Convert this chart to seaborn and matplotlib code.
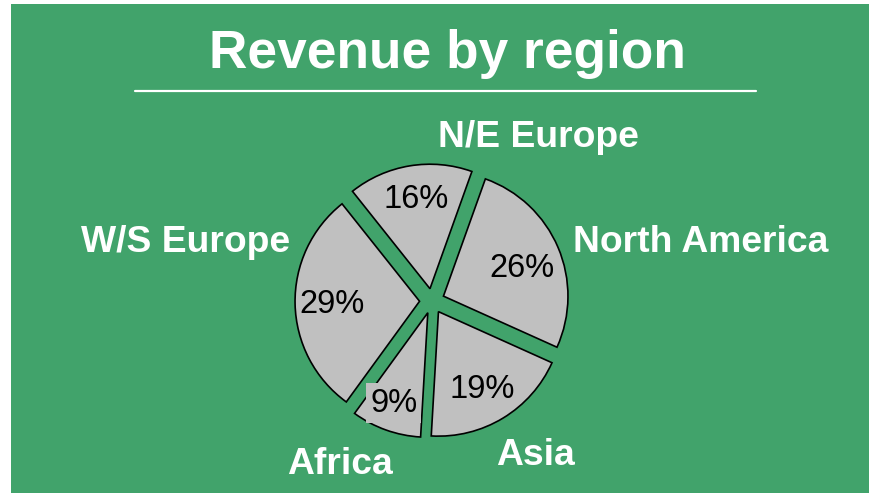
# plot.py
# Revenue by region — exploded pie on a green card

import matplotlib
matplotlib.use('Agg')
import matplotlib.pyplot as plt
import matplotlib.patches as mpatches
from matplotlib.lines import Line2D
import seaborn as sns

# data
regions = ['N/E Europe', 'North America', 'Asia', 'Africa', 'W/S Europe']
shares  = [16, 26, 19, 9, 29]

# text positions (data units, pie radius = 1), baseline-aligned
label_pos = [(0.855, 1.237), (2.161, 0.394), (0.831, -1.317), (-0.739, -1.390), (-1.976, 0.394)]
pct_pos   = [(-0.124, 0.747), (0.719, 0.195), (0.402, -0.779), (-0.308, -0.889), (-0.803, -0.096)]

GREEN = '#41A36B'
GREY  = '#C0C0C0'

sns.set_style('white')
plt.rcParams['font.family'] = ['Liberation Sans', 'DejaVu Sans']

fig = plt.figure(figsize=(8.69, 4.93), dpi=100)
fig.patch.set_facecolor('white')

# green card (small white strip on the left and top)
fig.patches.append(mpatches.Rectangle((11 / 869, 0), 1 - 11 / 869, 1 - 4 / 493,
                                      transform=fig.transFigure, facecolor=GREEN,
                                      edgecolor='none', zorder=-5))

fig.text(0.515, 0.862, 'Revenue by region', ha='center', va='baseline',
         fontsize=38.3, fontweight='bold', color='white')
fig.lines.append(Line2D([135 / 869, 755.5 / 869], [1 - 91 / 493, 1 - 91 / 493],
                        transform=fig.transFigure, color='white', lw=1.6))

# axes sized so one data unit ~ 124.5 px, centred at (432, 301)
L = 1.5
size = 2 * L * 124.5
ax = fig.add_axes([(432 - size / 2) / 869, (192 - size / 2) / 493, size / 869, size / 493])
ax.set_facecolor('none')
ax.set_zorder(2)

wedges, texts, autotexts = ax.pie(
    shares, labels=regions, autopct='%1.0f%%', startangle=128.5, counterclock=False,
    explode=[0.1] * len(shares), colors=[GREY] * len(shares),
    wedgeprops=dict(edgecolor='black', linewidth=1.2),
    textprops=dict(fontsize=26.8, fontweight='bold', color='white'),
)

for t, p in zip(texts, label_pos):
    t.set_position(p)
    t.set_ha('center')
    t.set_va('baseline')

for t, p in zip(autotexts, pct_pos):
    t.set_position(p)
    t.set_ha('center')
    t.set_va('baseline')
    t.set_fontsize(23.5)
    t.set_fontweight('normal')
    t.set_color('black')

# the small Africa label sits on a grey box that spills over its wedge edge
autotexts[regions.index('Africa')].set_bbox(dict(facecolor=GREY, edgecolor='none', pad=3))

ax.set_xlim(-L, L)
ax.set_ylim(-L, L)
ax.set_aspect('equal')
ax.axis('off')

fig.savefig('out.png', dpi=100, facecolor=fig.get_facecolor())
